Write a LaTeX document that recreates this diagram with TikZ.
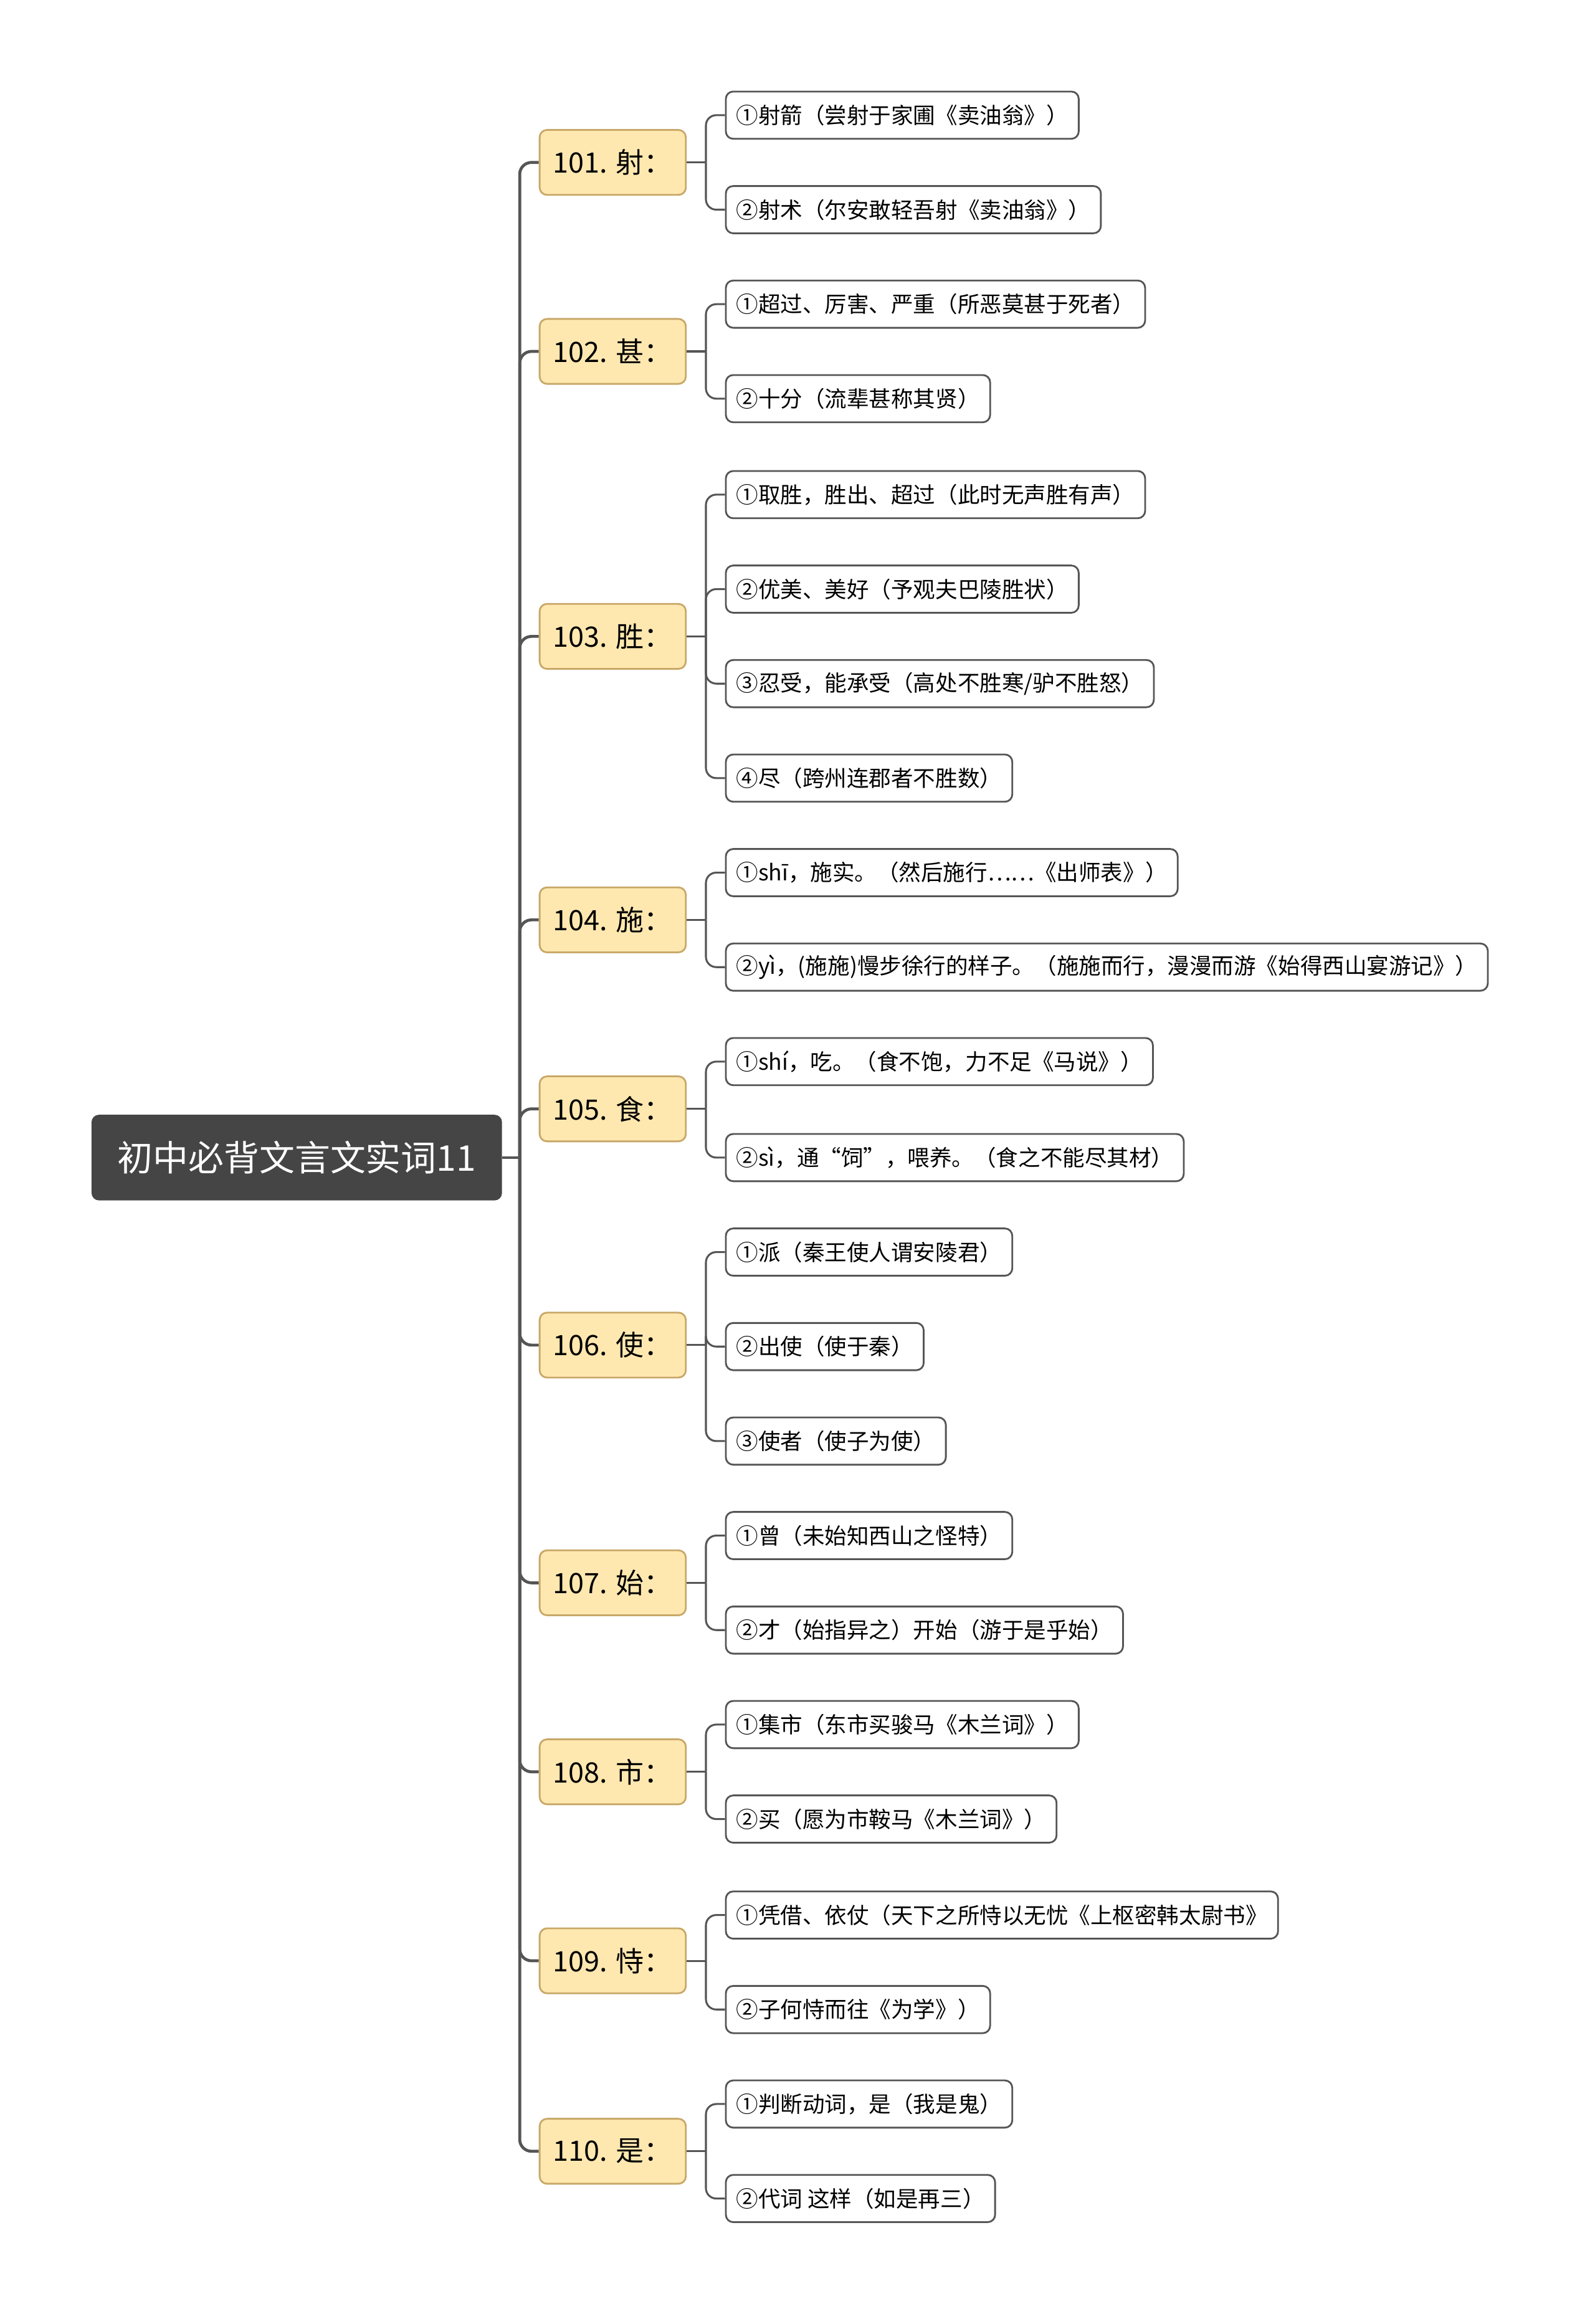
\documentclass[tikz,border=0pt]{standalone}
\usepackage{fontspec}
\setmainfont{Noto Sans CJK SC}
\usetikzlibrary{positioning, calc}
\definecolor{rootfill}{HTML}{454545}
\definecolor{kidfill}{HTML}{FFE8B0}
\definecolor{kiddraw}{HTML}{C8A868}
\definecolor{linkgray}{HTML}{555555}
\tikzset{
	rootbox/.style = {rectangle, rounded corners=5pt, fill=rootfill, text=white,
		minimum width=278pt, minimum height=58pt, font=\fontsize{24}{28}\selectfont},
	kidbox/.style = {rectangle, rounded corners=5pt, fill=kidfill, draw=kiddraw,
		line width=1.2pt, minimum width=99pt, minimum height=44pt,
		font=\fontsize{19}{22}\selectfont},
	leafbox/.style = {rectangle, rounded corners=5pt, draw=linkgray, fill=white,
		line width=1.2pt, minimum height=32pt, inner xsep=7pt, anchor=west,
		font=\fontsize{15}{17}\selectfont},
	link/.style = {draw=linkgray, line width=2pt, rounded corners=8pt},
	twig/.style = {draw=linkgray, line width=1.3pt, rounded corners=7pt}
}
\begin{document}
\begin{tikzpicture}[x=1pt, y=-1pt]
	\useasboundingbox (0,0) rectangle (1080,1574);
	\node[rootbox] (root) at (201,784) {初中必背文言文实词11};
	\coordinate (trunk) at (352,784);
	%% kids
	\node[kidbox] (k1) at (415,110) {101. 射：};
	\node[kidbox] (k2) at (415,238) {102. 甚：};
	\node[kidbox] (k3) at (415,431) {103. 胜：};
	\node[kidbox] (k4) at (415,623) {104. 施：};
	\node[kidbox] (k5) at (415,751) {105. 食：};
	\node[kidbox] (k6) at (415,911) {106. 使：};
	\node[kidbox] (k7) at (415,1072) {107. 始：};
	\node[kidbox] (k8) at (415,1200) {108. 市：};
	\node[kidbox] (k9) at (415,1328) {109. 恃：};
	\node[kidbox] (k10) at (415,1457) {110. 是：};
	%% leaves
	\node[leafbox] (k1a) at (491,78) {①射箭（尝射于家圃《卖油翁》）};
	\node[leafbox] (k1b) at (491,142) {②射术（尔安敢轻吾射《卖油翁》）};
	\node[leafbox] (k2a) at (491,206) {①超过、厉害、严重（所恶莫甚于死者）};
	\node[leafbox] (k2b) at (491,270) {②十分（流辈甚称其贤）};
	\node[leafbox] (k3a) at (491,335) {①取胜，胜出、超过（此时无声胜有声）};
	\node[leafbox] (k3b) at (491,399) {②优美、美好（予观夫巴陵胜状）};
	\node[leafbox] (k3c) at (491,463) {③忍受，能承受（高处不胜寒/驴不胜怒）};
	\node[leafbox] (k3d) at (491,527) {④尽（跨州连郡者不胜数）};
	\node[leafbox] (k4a) at (491,591) {①shī，施实。（然后施行……《出师表》）};
	\node[leafbox] (k4b) at (491,655) {②yì，(施施)慢步徐行的样子。（施施而行，漫漫而游《始得西山宴游记》）};
	\node[leafbox] (k5a) at (491,719) {①shí，吃。（食不饱，力不足《马说》）};
	\node[leafbox] (k5b) at (491,784) {②sì，通“饲”，喂养。（食之不能尽其材）};
	\node[leafbox] (k6a) at (491,848) {①派（秦王使人谓安陵君）};
	\node[leafbox] (k6b) at (491,912) {②出使（使于秦）};
	\node[leafbox] (k6c) at (491,976) {③使者（使子为使）};
	\node[leafbox] (k7a) at (491,1040) {①曾（未始知西山之怪特）};
	\node[leafbox] (k7b) at (491,1104) {②才（始指异之）开始（游于是乎始）};
	\node[leafbox] (k8a) at (491,1168) {①集市（东市买骏马《木兰词》）};
	\node[leafbox] (k8b) at (491,1232) {②买（愿为市鞍马《木兰词》）};
	\node[leafbox] (k9a) at (491,1297) {①凭借、依仗（天下之所恃以无忧《上枢密韩太尉书》};
	\node[leafbox] (k9b) at (491,1361) {②子何恃而往《为学》）};
	\node[leafbox] (k10a) at (491,1425) {①判断动词，是（我是鬼）};
	\node[leafbox] (k10b) at (491,1489) {②代词 这样（如是再三）};
	%% root to kids
	\draw[link] (root.east) -- (trunk);
	\foreach \k in {k1,k2,k3,k4,k5,k6,k7,k8,k9,k10}
		\draw[link] (trunk) |- (\k.west);
	%% kids to leaves
	\foreach \k/\leaves in {k1/{a,b}, k2/{a,b}, k3/{a,b,c,d}, k4/{a,b}, k5/{a,b},
		k6/{a,b,c}, k7/{a,b}, k8/{a,b}, k9/{a,b}, k10/{a,b}} {
		\draw[twig] (\k.east) -- ++(13,0) coordinate (\k fork);
		\foreach \l in \leaves
			\draw[twig] (\k fork) |- (\k\l.west);
	}
\end{tikzpicture}
\end{document}
